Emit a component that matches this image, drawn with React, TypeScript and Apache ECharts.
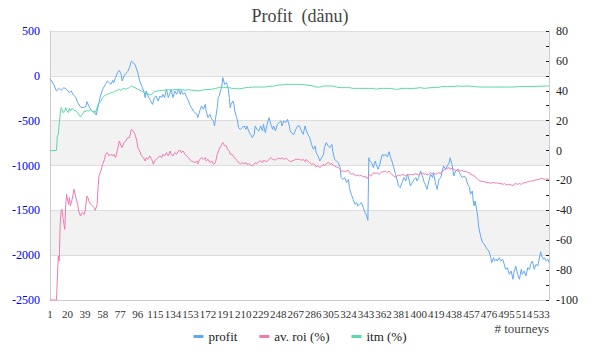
import React, { useEffect, useRef } from "react";
import * as echarts from "echarts";

const TITLE = "Profit  (dänu)";
const SERIES_NAMES = ["profit", "av. roi (%)", "itm (%)"];
const X_NAME = "# tourneys";
const N_TOURNEYS = 541;
const X_LABEL_STEP = 19;
const categories = Array.from({ length: N_TOURNEYS }, (_, i) => String(i + 1));

// [tourney #, profit]
const profitData: [number, number][] = [
  [1,-32],[5,-95],[8,-169],[11,-139],[13,-162],[16,-132],[19,-150],[22,-188],[24,-169],[26,-206],[29,-243],[31,-299],[34,-347],[37,-355],[40,-336],[41,-288],[43,-336],[46,-392],[49,-411],[51,-437],[52,-392],[54,-299],[56,-206],[58,-150],[60,-113],[61,-95],[63,-58],[65,-76],[67,-95],[69,-50],[70,-76],[72,-20],[74,35],[76,61],[78,17],[79,-58],[81,-2],[83,24],[85,47],[87,91],
  [89,165],[93,128],[96,35],[98,-58],[101,-132],[103,-188],[104,-243],[105,-169],[107,-225],[109,-262],[112,-318],[113,-281],[114,-243],[116,-225],[118,-281],[120,-225],[122,-243],[123,-206],[125,-243],[127,-150],[129,-243],[131,-188],[132,-150],[134,-243],[136,-169],[138,-206],[140,-150],[142,-206],[143,-162],[145,-206],[147,-188],[149,-243],[151,-281],[152,-318],[154,-355],[156,-392],[158,-411],[160,-429],[161,-466],[163,-392],[165,-336],[167,-373],[169,-318],[170,-392],[172,-466],[174,-429],[176,-485],[178,-504],[179,-559],
  [180,-485],[182,-355],[183,-243],[184,-225],[186,-150],[187,-113],[188,-20],[189,-58],[190,-95],[192,-76],[193,-113],[194,-150],[195,-243],[196,-355],[197,-318],[199,-281],[200,-318],[201,-392],[203,-466],[204,-504],[205,-578],[207,-597],[209,-578],[211,-559],[213,-597],[214,-559],[216,-615],[218,-652],[220,-689],[222,-652],[223,-559],[225,-597],[227,-615],[229,-559],[231,-615],[232,-541],[234,-634],[236,-541],[238,-466],[240,-541],[242,-597],[243,-559],[245,-615],[247,-541],[249,-522],[251,-504],[252,-559],[254,-504],[256,-522],[258,-485],[260,-559],[261,-615],[263,-645],[265,-652],[267,-597],[269,-559],
  [271,-559],[273,-615],[275,-652],[277,-559],[278,-597],[280,-652],[282,-689],[284,-764],[286,-820],[288,-782],[289,-857],[291,-894],[293,-950],[295,-913],[297,-875],[298,-801],[300,-745],[302,-782],[304,-801],[306,-764],[307,-838],[309,-931],[311,-950],[313,-968],[315,-1024],[316,-1135],[318,-1154],[320,-1135],[322,-1191],[324,-1154],[325,-1247],[327,-1321],[329,-1377],[331,-1433],[333,-1414],[334,-1451],[336,-1433],[338,-1414],[340,-1470],[342,-1526],[343,-1544],[345,-1611],[346,-913],[347,-950],[349,-968],[351,-1024],[353,-950],[354,-987],[356,-1043],[358,-987],[360,-894],[361,-875],
  [362,-894],[364,-875],[366,-905],[368,-846],[369,-894],[371,-950],[373,-1024],[375,-1098],[377,-1173],[378,-1228],[380,-1247],[382,-1191],[384,-1135],[386,-1173],[388,-1098],[389,-1135],[391,-1228],[393,-1191],[395,-1154],[397,-1135],[398,-1173],[400,-1135],[402,-1061],[404,-1117],[406,-1191],[407,-1210],[409,-1266],[411,-1173],[413,-1098],[415,-1135],[416,-1080],[418,-1191],[420,-1266],[422,-1154],[424,-1135],[425,-1080],[427,-1005],[429,-1043],[431,-1005],[433,-968],[434,-913],[436,-987],[438,-1117],[440,-1061],[442,-1043],[443,-1061],[445,-1098],[447,-1135],[449,-1117],
  [451,-1135],[453,-1210],[455,-1247],[456,-1321],[458,-1284],[459,-1396],[460,-1451],[461,-1396],[463,-1507],[464,-1582],[465,-1693],[467,-1786],[469,-1860],[471,-1879],[473,-1916],[474,-1935],[476,-1953],[478,-2028],[479,-2083],[481,-2028],[482,-2065],[484,-2046],[485,-2065],[487,-2028],[489,-2065],[491,-2046],[493,-2120],[494,-2158],[496,-2139],[498,-2213],[500,-2176],[502,-2269],[503,-2195],[505,-2120],[507,-2213],[509,-2269],[511,-2158],[512,-2213],[514,-2176],[516,-2232],[518,-2139],[520,-2158],[521,-2102],[523,-2065],[525,-2158],[527,-2102],[529,-2120],[530,-2065],[532,-1961],[533,-2009],[535,-2046],[536,-2028],[538,-2065],[540,-2046],[541,-2083],
];

// [tourney #, average ROI %]
const roiData: [number, number][] = [
  [1,-100],[8,-100],[10,-70.5],[11,-73.9],[12,-49.3],[13,-40.4],[14,-39.3],[15,-44.9],[17,-52.7],[18,-36],[19,-29.3],[21,-36],[22,-31.5],[23,-37.1],[25,-32.6],[27,-25.9],[29,-31.5],[31,-36],[32,-40.4],[34,-43.8],[36,-41.5],[38,-42.7],[39,-40.4],[41,-30.4],[42,-31.5],[43,-33.7],[45,-36],[47,-37.1],[49,-38.2],[50,-40],[52,-36],[53,-24.8],[54,-17],[56,-13.7],[58,-9.2],[60,-5.9],[61,-2.5],[63,-1.4],[65,-3.6],[67,-2.5],[69,-3.6],[70,-2.5],[72,-4.7],[74,0.8],[76,6.4],[78,3.1],[79,2],[81,5.3],[83,6.4],[85,8.6],[87,8.6],
  [89,14.2],[91,13.1],[93,10.9],[95,6.4],[96,2],[98,-0.3],[100,-3.6],[102,-4.7],[104,-7],[105,-4.7],[107,-5.9],[109,-3.6],[111,-5.9],[113,-9.2],[114,-7],[116,-5.9],[118,-4.7],[120,-3.6],[122,-4.7],[123,-2.5],[125,-3.6],[127,-1.4],[129,-3.6],[131,-0.3],[132,-2.5],[134,-3.6],[136,-1.4],[138,-2.5],[140,-0.3],[142,0.2],[143,-1.4],[145,-0.3],[147,-2.5],[149,-3.6],[151,-4.7],[152,-5.9],[154,-7],[156,-7.4],[158,-8.1],[160,-7],[161,-8.8],[163,-5.9],[165,-4.7],[167,-5.9],[169,-4.7],[170,-7],[172,-5.9],[174,-8.1],[176,-7],[178,-9.2],
  [180,-8.1],[182,-2.5],[184,0.8],[186,3.1],[187,4.2],[188,5.3],[190,3.1],[192,3.1],[193,0.8],[195,-0.3],[196,-2.5],[198,-2.5],[200,-4.3],[202,-5.9],[204,-7],[205,-8.1],[207,-8.8],[209,-8.1],[211,-8.8],[213,-8.1],[214,-9.2],[216,-8.8],[218,-9.6],[220,-10.3],[222,-9.2],[223,-8.1],[225,-8.8],[227,-7.4],[229,-7],[231,-8.1],[232,-6.5],[234,-7],[236,-7.4],[238,-5.9],[240,-4.7],[242,-5.9],[243,-5.9],[245,-6.5],[247,-5.2],[249,-5.2],[251,-5.6],[252,-4.7],[254,-5.9],[256,-5.2],[258,-5.9],[260,-7],[261,-7.4],[263,-7],[265,-6.5],[267,-5.9],[269,-5.9],
  [271,-5.9],[273,-6.5],[275,-5.9],[277,-7.4],[278,-5.9],[280,-7],[282,-8.1],[284,-9.2],[286,-8.8],[288,-9.6],[289,-11],[291,-10.3],[293,-11.4],[295,-10.3],[297,-9.2],[298,-10.3],[300,-8.8],[302,-8.1],[304,-9.2],[306,-8.8],[307,-9.6],[309,-10.3],[311,-11],[313,-11.4],[315,-12.5],[316,-13.7],[318,-13.7],[320,-14.1],[322,-13.7],[324,-13.2],[325,-14.8],[327,-15.9],[329,-15.4],[331,-16.3],[333,-17],[334,-16.3],[336,-17],[338,-16.6],[340,-17.7],[342,-17],[343,-18.1],[345,-18.6],[346,-15.9],[348,-17],[350,-15.9],[351,-14.8],[354,-15.4],[355,-14.8],[357,-15.9],[359,-14.8],[361,-14.1],
  [362,-14.1],[364,-13.7],[366,-14.8],[368,-13.7],[369,-14.8],[371,-15.9],[373,-17],[375,-17.7],[377,-17],[378,-16.3],[380,-17],[382,-15.9],[384,-16.3],[386,-17],[388,-15.9],[389,-16.3],[391,-15.9],[393,-16.3],[395,-15.9],[397,-15.4],[398,-15.9],[400,-16.3],[402,-15.4],[404,-15],[406,-15.9],[407,-15.4],[409,-16.3],[411,-15.9],[413,-14.8],[415,-15.4],[416,-14.8],[418,-15.9],[420,-15.4],[422,-14.8],[424,-15.4],[425,-13.7],[427,-13.2],[429,-12.5],[431,-11.9],[433,-11.4],[434,-12.5],[436,-11.9],[438,-12.5],[440,-13.2],[442,-13.7],[443,-12.5],[445,-13.7],[447,-13.2],[449,-14.1],
  [451,-13.7],[453,-14.8],[455,-14.8],[456,-15.9],[458,-16.3],[460,-17],[462,-18.1],[464,-19.2],[465,-19.9],[467,-20.4],[469,-20.8],[471,-20.8],[473,-21.5],[474,-21.5],[476,-21.5],[478,-21.9],[480,-21.5],[482,-21.5],[484,-21.9],[485,-21.5],[487,-22.1],[489,-22.1],[491,-22.6],[493,-22.1],[494,-22.6],[496,-23],[498,-22.6],[500,-23],[502,-23.7],[503,-22.6],[505,-22.1],[507,-22.6],[509,-22.1],[511,-22.6],[512,-22.1],[514,-21.5],[516,-21.5],[518,-20.8],[520,-20.8],[521,-20.4],[523,-20.4],[525,-19.9],[527,-19.7],[529,-19.2],[530,-19.5],[532,-18.6],[534,-18.8],[536,-19.2],[538,-19],[540,-19.2],[541,-19.7],
];

// [tourney #, in-the-money %]
const itmData: [number, number][] = [
  [1,0],[8,0],[9,9.8],[10,10.9],[11,17.6],[12,24.2],[13,28.7],[14,27.6],[15,25.4],[17,26.5],[18,28.7],[19,26.9],[21,25.4],[22,28.3],[23,26.5],[25,28.3],[27,26.9],[29,26.5],[31,25.4],[32,24.2],[34,22.5],[36,24.2],[38,26.5],[40,26],[41,26.9],[43,26.5],[45,27.6],[47,26],[49,26.5],[50,25.4],[52,28.7],[54,32.1],[56,33.2],[58,35.4],[60,36.5],[61,37.2],[63,37.6],[65,38.1],[67,38.7],[69,38.7],[70,39.4],[72,39.9],[74,40.3],[76,41],[78,40.3],[79,41],[81,41.6],[83,41],[85,41.6],[87,42.1],
  [89,43.2],[93,42.1],[96,41],[100,39.9],[103,38.7],[107,38.1],[109,37.2],[111,37.6],[113,38.7],[114,39.4],[118,39.9],[122,40.3],[125,40.3],[129,40.8],[132,40.3],[136,40.8],[140,41],[143,40.8],[147,40.3],[151,40.8],[154,40.3],[158,40.3],[161,39.9],[165,40.3],[169,40.8],[172,40.8],[176,41],
  [180,41.6],[184,42.1],[187,42.5],[191,42.1],[195,42.1],[198,41.6],[202,41.6],[205,41.2],[209,41.6],[213,42.1],[216,42.1],[220,42.5],[223,42.5],[227,42.5],[231,42.5],[234,42.5],[238,43],[242,43],[245,43.4],[249,43.9],[252,43.9],[256,44.3],[260,44.3],[263,44.3],[267,44.3],
  [271,44.3],[278,43.9],[286,43.2],[289,42.5],[293,42.5],[297,43.2],[300,43.2],[304,43.2],[307,43.2],[311,42.5],[315,42.1],[318,42.1],[322,42.1],[325,42.1],[329,41.6],[333,41.6],[336,41.6],[340,41.6],[343,41.6],[347,41.6],[351,41.6],[354,41],[358,41.6],
  [362,41.6],[369,41.6],[375,41],[377,41],[382,41.6],[388,41.6],[395,41.6],[402,42.1],[406,41.6],[413,42.1],[420,42.1],[425,42.8],[431,42.8],[438,42.8],[442,43.2],[449,43],
  [451,43.2],[458,43],[465,42.5],[473,42.5],[480,42.5],[487,42.5],[494,42.5],[502,42.5],[509,42.8],[516,42.8],[523,42.8],[530,43],[538,43.2],[541,43.2],
];

const COLORS = ["#62a8f5", "#f07ab2", "#5ad8a6"];
const FONT = "Liberation Serif";

const toSeries = (d: [number, number][]) => d.map(([t, v]) => [String(t), v]);

export default function App() {
  const ref = useRef<HTMLDivElement>(null);
  useEffect(() => {
    if (!ref.current) return;
    const chart = echarts.init(ref.current, undefined, { renderer: "svg" });
    chart.setOption({
      animation: false,
      color: COLORS,
      textStyle: { fontFamily: FONT },
      title: {
        text: TITLE,
        left: "center",
        top: 2,
        textStyle: { fontFamily: FONT, fontSize: 18, fontWeight: "normal", color: "#444" },
      },
      legend: {
        data: SERIES_NAMES,
        bottom: 12,
        left: "center",
        icon: "rect",
        itemWidth: 10,
        itemHeight: 3,
        itemGap: 22,
        textStyle: { fontFamily: FONT, fontSize: 13, color: "#222" },
      },
      grid: { left: 50, right: 51, top: 31, bottom: 60 },
      xAxis: {
        type: "category",
        data: categories,
        boundaryGap: false,
        name: X_NAME,
        nameLocation: "end",
        nameGap: 0,
        nameTextStyle: {
          fontFamily: FONT,
          fontSize: 13,
          color: "#444",
          align: "right",
          verticalAlign: "top",
          padding: [22, 0, 0, 0],
        },
        axisLine: { show: true, onZero: false, lineStyle: { color: "#cccccc" } },
        axisTick: { show: false },
        axisLabel: {
          interval: (index: number) => index % X_LABEL_STEP === 0,
          showMinLabel: true,
          showMaxLabel: true,
          hideOverlap: false,
          color: "#333",
          fontFamily: FONT,
          fontSize: 11,
          margin: 8,
        },
        splitLine: { show: false },
      },
      yAxis: [
        {
          type: "value",
          min: -2500,
          max: 500,
          interval: 500,
          position: "left",
          axisLine: { show: true, lineStyle: { color: "#cccccc" } },
          axisTick: { show: false },
          axisLabel: {
            color: "#0000ff",
            fontFamily: FONT,
            fontSize: 12,
            margin: 10,
            formatter: (v: number) => String(v),
          },
          splitLine: { show: true, lineStyle: { color: "#dddddd" } },
          splitArea: { show: true, areaStyle: { color: ["#ffffff", "#f2f2f2"] } },
        },
        {
          type: "value",
          min: -100,
          max: 80,
          interval: 10,
          position: "right",
          axisLine: { show: true, lineStyle: { color: "#cccccc" } },
          axisTick: { show: true, inside: true, length: 3, lineStyle: { color: "#222" } },
          axisLabel: {
            color: "#222",
            fontFamily: FONT,
            fontSize: 12,
            margin: 7,
            formatter: (v: number) => (v % 20 === 0 ? String(v) : ""),
          },
          splitLine: { show: false },
        },
      ],
      series: [
        {
          name: SERIES_NAMES[0],
          type: "line",
          yAxisIndex: 0,
          data: toSeries(profitData),
          showSymbol: false,
          lineStyle: { width: 1 },
        },
        {
          name: SERIES_NAMES[1],
          type: "line",
          yAxisIndex: 1,
          data: toSeries(roiData),
          showSymbol: false,
          lineStyle: { width: 1 },
        },
        {
          name: SERIES_NAMES[2],
          type: "line",
          yAxisIndex: 1,
          data: toSeries(itmData),
          showSymbol: false,
          lineStyle: { width: 1 },
        },
      ],
    });
    return () => chart.dispose();
  }, []);
  return <div ref={ref} style={{ width: 600, height: 360, position: "absolute", left: 0, top: 0 }} />;
}
